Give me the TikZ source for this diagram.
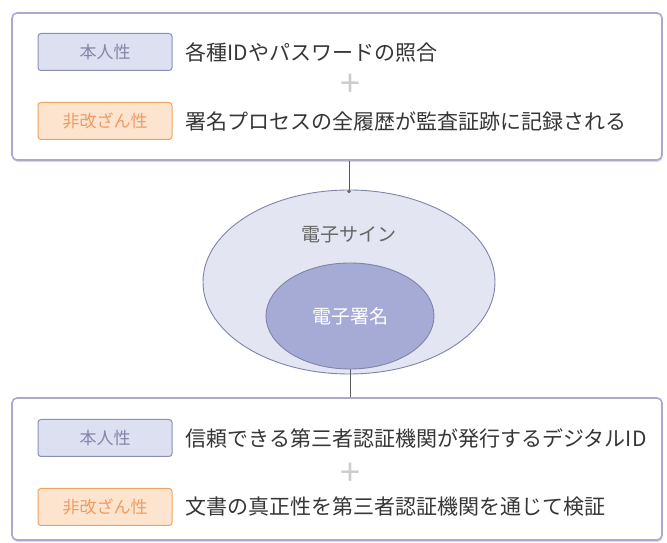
\documentclass[tikz,border=0pt]{standalone}
\usepackage{fontspec}
\setmainfont{Noto Sans CJK JP}
\usetikzlibrary{positioning,shapes.geometric,shadows}

\definecolor{rahmen}{HTML}{A9A9D2}
\definecolor{blauFuell}{HTML}{DDE0F0}
\definecolor{blauRand}{HTML}{8C90B8}
\definecolor{blauText}{HTML}{8286A8}
\definecolor{orangeFuell}{HTML}{FDE4CF}
\definecolor{orangeRand}{HTML}{EFA45E}
\definecolor{orangeText}{HTML}{EE9C62}
\definecolor{aussenFuell}{HTML}{E3E5F2}
\definecolor{innenFuell}{HTML}{A6ABD6}
\definecolor{ellRand}{HTML}{7F84A8}
\definecolor{schrift}{HTML}{363636}

\tikzset{
  kasten/.style={draw=rahmen, line width=1.6pt, rounded corners=5pt, fill=white,
    minimum width=650pt, drop shadow={shadow xshift=0.5pt, shadow yshift=-2pt, fill=rahmen!60, opacity=0.8}},
  marke/.style={rounded corners=3pt, line width=1pt, minimum width=134pt, minimum height=37pt,
    inner sep=0pt, font=\fontsize{17}{20}\selectfont},
  echt/.style={marke, draw=blauRand, fill=blauFuell, text=blauText},
  unveraendert/.style={marke, draw=orangeRand, fill=orangeFuell, text=orangeText},
  satz/.style={right=13pt of #1, inner sep=0pt, text=schrift, font=\fontsize{21}{24}\selectfont},
  plus/.style={text=gray!40, inner sep=0pt, font=\fontsize{36}{36}\selectfont},
  linie/.style={draw=black!65, line width=0.9pt}
}

\begin{document}
\begin{tikzpicture}[x=1pt,y=1pt]
\useasboundingbox (0,0) rectangle (667,543);
%oben
\node[kasten, minimum height=147pt] (obenBox) at (337,456.5) {};
\node[echt] (oben1) at (105,491) {本人性};
\node[satz=oben1] (obenText1) {各種IDやパスワードの照合};
\node[plus] (obenPlus) at (350,458) {+};
\node[unveraendert] (oben2) at (105,422) {非改ざん性};
\node[satz=oben2] (obenText2) {署名プロセスの全履歴が監査証跡に記録される};
%Mitte
\node[ellipse, draw=ellRand, line width=0.9pt, fill=aussenFuell, minimum width=292pt, minimum height=184pt] (ellAussen) at (349,261) {};
\node[text=black!60, font=\fontsize{19}{22}\selectfont] (signTxt) at (349,308) {電子サイン};
\node[ellipse, draw=ellRand, line width=0.9pt, fill=innenFuell, minimum width=168pt, minimum height=106pt, text=white, font=\fontsize{19}{22}\selectfont] (ellInnen) at (350,227) {電子署名};
%unten
\node[kasten, minimum height=142pt] (untenBox) at (337,74) {};
\node[echt] (unten1) at (105,105) {本人性};
\node[satz=unten1] (untenText1) {信頼できる第三者認証機関が発行するデジタルID};
\node[plus] (untenPlus) at (350,69) {+};
\node[unveraendert] (unten2) at (105,36) {非改ざん性};
\node[satz=unten2] (untenText2) {文書の真正性を第三者認証機関を通じて検証};
%Verbindungen
\draw[linie] (obenBox.south -| ellAussen.north) -- (ellAussen.north);
\fill[black!60] (ellAussen.north) ++(0,-2) circle (1.8pt);
\draw[linie] (ellInnen.south) -- (ellInnen.south |- untenBox.north);
\end{tikzpicture}
\end{document}
